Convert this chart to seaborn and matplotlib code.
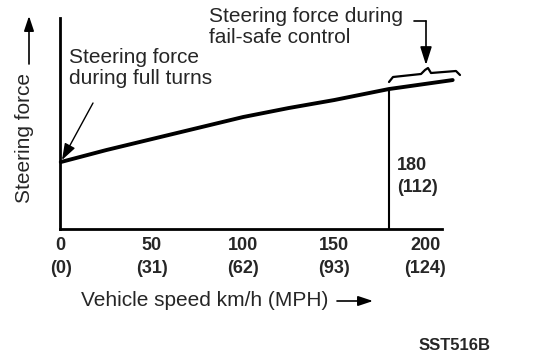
import matplotlib
matplotlib.use("Agg")
from matplotlib import pyplot as plt
import seaborn as sns
import pandas as pd

# data (force in arbitrary units)
speed_kmh = [0, 25, 50, 75, 100, 125, 150, 180, 215]
steer_force = [67, 79, 90, 101, 112, 121, 129, 140, 149]
tick_kmh = [0, 50, 100, 150, 200]
tick_mph = [0, 31, 62, 93, 124]
failsafe_kmh = 180
failsafe_mph = 112

sns.set_style("white")
plt.rcParams['font.family'] = ['Liberation Sans', 'DejaVu Sans']

fig = plt.figure(figsize=(5.44, 3.54), dpi=100)
ax = fig.add_axes([0.110, 0.353, 0.702, 0.596])

df = pd.DataFrame({"speed": speed_kmh, "force": steer_force})
sns.lineplot(data=df, x="speed", y="force", ax=ax, color="black", lw=2.8,
             clip_on=False)

ax.set_xlim(-0.5, 209)
ax.set_ylim(0, 211)

# fail-safe threshold line
ax.plot([failsafe_kmh, failsafe_kmh], [0, 140], color="black", lw=1.5)
ax.text(failsafe_kmh + 4.5, 72, f"{failsafe_kmh}\n({failsafe_mph})",
        fontsize=13, fontweight="bold", va="top", linespacing=1.4)

ax.set_xticks(tick_kmh)
ax.set_xticklabels([f"{k}\n({m})" for k, m in zip(tick_kmh, tick_mph)],
                   fontsize=13, fontweight="bold", linespacing=1.4)
ax.set_yticks([])
ax.tick_params(axis="x", direction="in", length=5, width=1.2, pad=6)

for s in ["top", "right"]:
    ax.spines[s].set_visible(False)
ax.spines["left"].set_linewidth(2)
ax.spines["bottom"].set_linewidth(2)
ax.spines["left"].set_color("black")
ax.spines["bottom"].set_color("black")

ax.set_xlabel("")
ax.set_ylabel("")


def fp(px, py):
    return (px / 544, 1 - py / 354)


def arrow(p0, p1, hl=8, hw=3, lw=1.2):
    fig.add_artist(matplotlib.patches.FancyArrowPatch(
        fp(*p0), fp(*p1), transform=fig.transFigure,
        arrowstyle=f"-|>,head_length={hl},head_width={hw}",
        mutation_scale=1, shrinkA=0, shrinkB=0, color="black", lw=lw))


fig.text(*fp(81, 300), "Vehicle speed km/h (MPH)", fontsize=15,
         va="center")
arrow((337, 301), (373, 301), hl=9, hw=3)

fig.text(*fp(25, 203), "Steering force", fontsize=15, rotation=90,
         va="bottom", ha="center")
arrow((29, 64), (29, 16), hl=9, hw=3)

fig.text(*fp(69, 68), "Steering force\nduring full turns", fontsize=15,
         va="center", linespacing=1.12)
arrow((93, 103), (62, 160), hl=10, hw=3.5, lw=1.0)

fig.text(*fp(209, 27), "Steering force during\nfail-safe control",
         fontsize=15, va="center", linespacing=1.12)
fig.add_artist(matplotlib.lines.Line2D(
    [fp(414, 21)[0], fp(426, 21)[0]], [fp(414, 21)[1], fp(426, 21)[1]],
    transform=fig.transFigure, color="black", lw=1.2))
arrow((426, 21), (426, 65), hl=11, hw=3.5)

brace = [(389, 82), (393, 77), (421, 74), (425, 70), (428, 68), (431, 73),
         (456, 71), (460, 75)]
fig.add_artist(matplotlib.lines.Line2D(
    [fp(*p)[0] for p in brace], [fp(*p)[1] for p in brace],
    transform=fig.transFigure, color="black", lw=1.6))

fig.text(*fp(455, 345), "SST516B", fontsize=12, fontweight="bold",
         ha="center", va="center")

fig.savefig("out.png", dpi=100)
